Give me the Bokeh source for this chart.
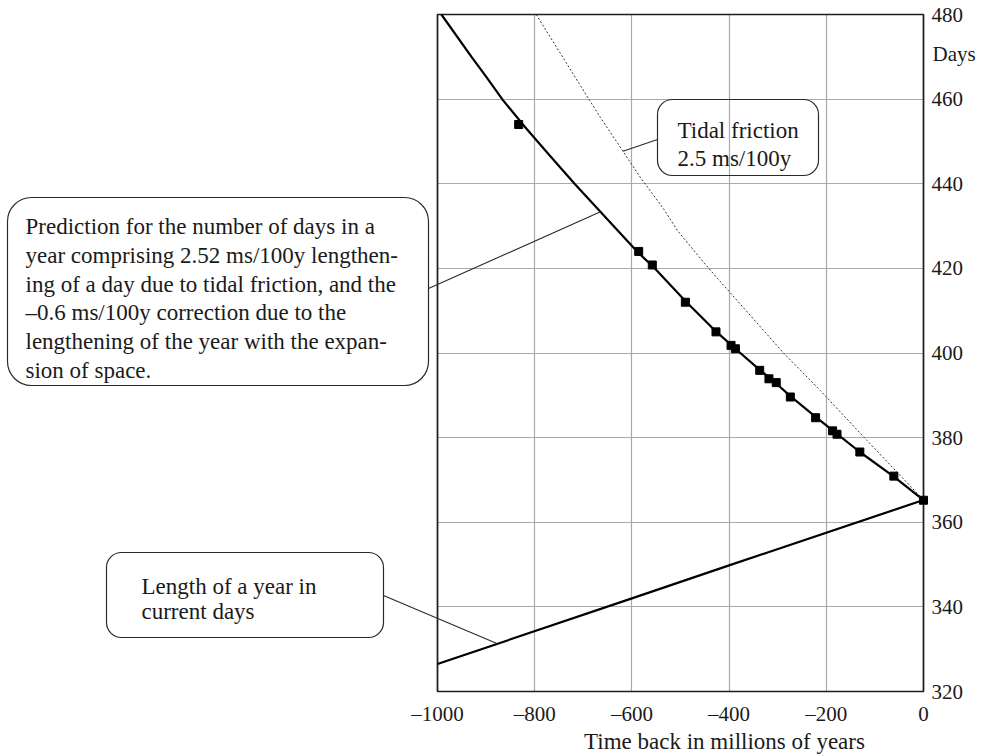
import numpy as np
from bokeh.plotting import figure
from bokeh.models import BoxAnnotation, Label, Arrow, FixedTicker, Range1d, Grid
from bokeh.embed import file_html
from bokeh.resources import INLINE

# ---------------- data ----------------
# prediction curve (days per year)
curve_x = [-992, -930, -900, -865, -820, -770, -717, -586, -558, -490, -427, -387,
           -337, -303, -274, -222, -178, -131, -61, 0]
curve_y = [480.0, 470.0, 465.3, 459.7, 453.4, 446.8, 439.9, 423.6, 420.6, 412.3, 405.1, 401.0,
           396.0, 392.8, 389.8, 384.9, 380.9, 376.6, 370.8, 365.25]

# tidal friction only (2.5 ms/100y), dotted
tidal_x = [-797, -687, -665, -582, -535, -506, -442, -288, -212, -116, 0]
tidal_y = [480.0, 459.7, 455.7, 441.4, 434.1, 428.9, 420.0, 400.0, 391.1, 379.3, 365.25]

# length of a year in current days
year_x = [-1000, -600, -400, 0]
year_y = [326.5, 342.0, 349.8, 365.25]

# observations (squares)
obs_x = [-833, -586, -558, -490, -427, -396, -387, -337, -318, -303, -274, -222, -187, -178, -131, -61, 0]
obs_y = [454.0, 424.0, 420.8, 412.0, 405.0, 401.8, 401.0, 395.9, 393.9, 393.0, 389.6, 384.7, 381.6, 380.8, 376.6, 370.9, 365.2]

x_ticks = [-1000, -800, -600, -400, -200, 0]
x_tick_labels = ["–1000", "–800", "–600", "–400", "–200", "0"]
y_ticks = [320, 340, 360, 380, 400, 420, 440, 460, 480]
y_tick_labels = ["320", "340", "360", "380", "400", "420", "440", "460", "480"]

x_title = "Time back in millions of years"
y_title = "Days"

note_prediction = [
    "Prediction for the number of days in a",
    "year comprising 2.52 ms/100y lengthen-",
    "ing of a day due to tidal friction, and the",
    "–0.6 ms/100y correction due to the",
    "lengthening  of the year with the expan-",
    "sion of space.",
]
note_year = ["Length of a year in", "current days"]
note_tidal = ["Tidal friction", "2.5 ms/100y"]

# ---------------- layout ----------------
FONT = "Liberation Serif"
TXT = "#1a1a1a"
EDGE = "#2a2a2a"
X0, X1, Y0, Y1 = -1000, 0, 320, 480
FL, FT, FW, FH = 437, 14, 486, 677      # chart box in canvas pixels
W, H = 986, 754


def X(px):
    return X0 + (px - FL) / FW * (X1 - X0)


def Y(py):
    return Y1 - (py - FT) / FH * (Y1 - Y0)


# the plotting frame covers the whole canvas so that callouts are not clipped;
# the chart box itself is placed with the axes' fixed locations
p = figure(width=W, height=H, x_range=Range1d(X(0), X(W)), y_range=Range1d(Y(H), Y(0)),
           output_backend="svg", toolbar_location=None,
           x_axis_location="below", y_axis_location="right", min_border=0)
p.min_border_left = p.min_border_right = p.min_border_top = p.min_border_bottom = 0
p.title.visible = False
p.background_fill_color = "white"
p.border_fill_color = "white"
p.outline_line_color = None

xa, ya = p.xaxis[0], p.yaxis[0]
xa.fixed_location = Y0
ya.fixed_location = X1
xa.bounds = (X0, X1)
ya.bounds = (Y0, Y1)
for ax in (xa, ya):
    ax.axis_line_color = None
    ax.major_tick_line_color = None
    ax.minor_tick_line_color = None
    ax.major_tick_in = 0
    ax.major_tick_out = 0
    ax.major_label_text_font = FONT
    ax.major_label_text_font_size = "21px"
    ax.major_label_text_color = TXT
xa.ticker = FixedTicker(ticks=x_ticks)
ya.ticker = FixedTicker(ticks=y_ticks)
xa.major_label_overrides = {t: l for t, l in zip(x_ticks, x_tick_labels)}
ya.major_label_overrides = {t: l for t, l in zip(y_ticks, y_tick_labels)}
xa.major_label_standoff = 10
ya.major_label_standoff = 8

GRID = "#aaaaaa"
xg, yg = p.xgrid[0], p.ygrid[0]
xg.ticker = FixedTicker(ticks=x_ticks)
yg.ticker = FixedTicker(ticks=y_ticks)
if "cross_bounds" in Grid.properties():
    xg.bounds = (X0, X1)
    yg.bounds = (Y0, Y1)
    xg.cross_bounds = (Y0, Y1)
    yg.cross_bounds = (X0, X1)
    for g in (xg, yg):
        g.grid_line_color = GRID
        g.grid_line_width = 1.2
else:
    xg.visible = False
    yg.visible = False
    p.segment(x0=x_ticks, y0=[Y0] * len(x_ticks), x1=x_ticks, y1=[Y1] * len(x_ticks),
              line_color=GRID, line_width=1.2)
    p.segment(x0=[X0] * len(y_ticks), y0=y_ticks, x1=[X1] * len(y_ticks), y1=y_ticks,
              line_color=GRID, line_width=1.2)

# chart box
p.add_layout(BoxAnnotation(left=X0, right=X1, bottom=Y0, top=Y1, fill_alpha=0,
                           fill_color=None, line_color="#1e1e1e", line_alpha=1.0,
                           line_width=1.7, level="underlay"))

# series
p.line(tidal_x, tidal_y, line_color="#333333", line_width=1, line_dash="2 2")
p.line(curve_x, curve_y, line_color="black", line_width=2.2)
p.line(year_x, year_y, line_color="black", line_width=2.2)
p.scatter(obs_x, obs_y, marker="square", size=8, fill_color="black", line_color="black")

# axis titles
p.add_layout(Label(x=X(932), y=Y(53), text=y_title, text_font=FONT,
                   text_font_size="21px", text_color=TXT,
                   text_align="left", text_baseline="alphabetic"))
p.add_layout(Label(x=X(724), y=Y(741), text=x_title, text_font=FONT,
                   text_font_size="23px", text_color=TXT,
                   text_align="center", text_baseline="alphabetic"))


def callout(box, radius, lines, left, base0, step, leader):
    l, t, r, b = box
    p.add_layout(BoxAnnotation(left=X(l), right=X(r), top=Y(t), bottom=Y(b),
                               fill_alpha=0, fill_color=None,
                               line_color=EDGE, line_alpha=1.0, line_width=1.2,
                               border_radius=radius))
    for i, s in enumerate(lines):
        p.add_layout(Label(x=X(left), y=Y(base0 + i * step), text=s,
                           text_font=FONT, text_font_size="23px", text_color=TXT,
                           text_align="left", text_baseline="alphabetic"))
    (sx, sy), (ex, ey) = leader
    p.add_layout(Arrow(end=None, x_start=sx, y_start=sy, x_end=ex, y_end=ey,
                       line_color=EDGE, line_width=1.1))


# prediction callout: leader ends on the prediction curve
e1x = X(600)
callout((7, 197, 428, 385), 24, note_prediction, 25, 226, 28.8,
        ((X(428), Y(288)), (e1x, float(np.interp(e1x, curve_x, curve_y)))))

# year-length callout: leader ends on the year line
e2x = X(497)
callout((106, 552, 383, 637), 15, note_year, 141, 585.5, 25,
        ((X(383), Y(595)), (e2x, float(np.interp(e2x, year_x, year_y)))))

# tidal friction callout: leader ends on the dotted curve
e3x = X(622.5)
callout((657, 99, 818, 175), 15, note_tidal, 677, 130, 27.5,
        ((X(657), Y(139)), (e3x, float(np.interp(e3x, tidal_x, tidal_y)))))

open("out.html", "w").write(file_html(p, INLINE))
